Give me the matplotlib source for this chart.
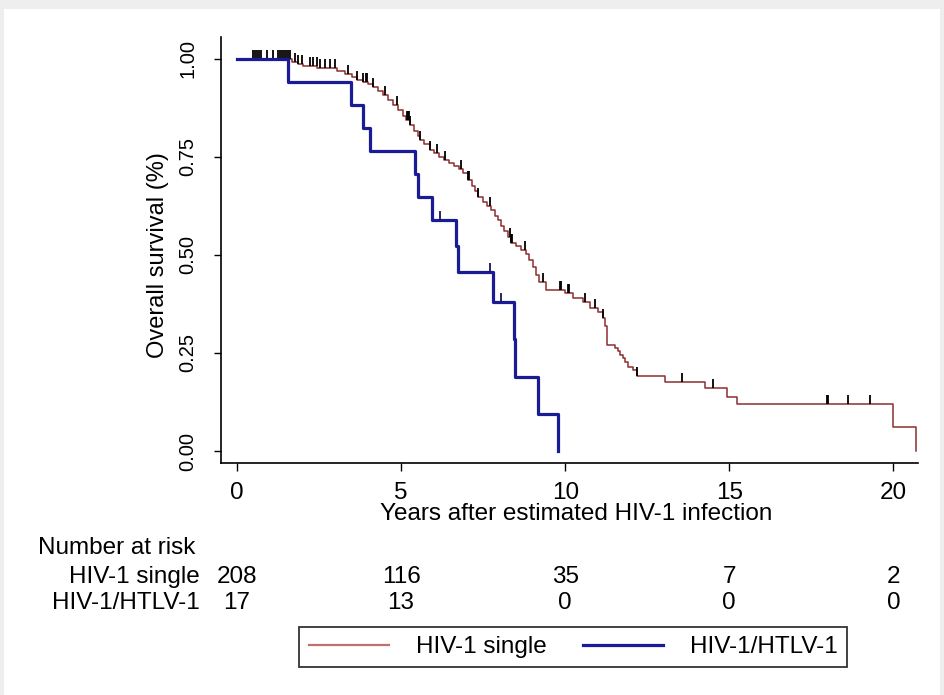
#Kaplan-Meier style survival curves: HIV-1 single vs HIV-1/HTLV-1 co-infection
import numpy as np
import matplotlib.pyplot as plt
from matplotlib.transforms import blended_transform_factory
from matplotlib.patches import Rectangle

plt.rcParams['font.family'] = ['Liberation Sans', 'DejaVu Sans']

# HIV-1 single: step times (years) and survival after each step
single_t = [0, 1.68, 1.85, 2.0, 2.45, 3.05, 3.3, 3.5, 3.66, 3.84, 4.0, 4.15, 4.3, 4.45,
            4.6, 4.76, 4.9, 5.06, 5.15, 5.27, 5.4, 5.5, 5.58, 5.7, 5.88, 6.0, 6.15,
            6.3, 6.45, 6.6, 6.75, 6.9, 7.04, 7.15, 7.25, 7.35, 7.5, 7.62, 7.75, 7.85,
            7.95, 8.05, 8.15, 8.25, 8.35, 8.5, 8.65, 8.8, 8.9, 9.02, 9.1, 9.2, 9.4,
            10.0, 10.24, 10.55, 10.76, 11.0, 11.16, 11.22, 11.28, 11.52, 11.6, 11.68,
            11.76, 11.83, 11.92, 12.07, 12.2, 13.05, 14.27, 14.94, 15.24, 20.0, 20.7]
single_s = [1.0, 0.992, 0.987, 0.982, 0.977, 0.969, 0.962, 0.954, 0.946, 0.941, 0.935,
            0.929, 0.919, 0.908, 0.896, 0.883, 0.870, 0.855, 0.845, 0.832, 0.815, 0.803,
            0.793, 0.782, 0.768, 0.760, 0.750, 0.742, 0.735, 0.727, 0.718, 0.710, 0.690,
            0.676, 0.662, 0.648, 0.636, 0.625, 0.615, 0.600, 0.588, 0.575, 0.562, 0.545,
            0.530, 0.522, 0.512, 0.503, 0.488, 0.469, 0.450, 0.431, 0.411, 0.403, 0.390,
            0.380, 0.365, 0.355, 0.339, 0.320, 0.270, 0.263, 0.254, 0.245, 0.236, 0.227,
            0.214, 0.207, 0.191, 0.176, 0.161, 0.138, 0.120, 0.061, 0.0]
single_cens = [0.49, 0.55, 0.61, 0.67, 0.73, 0.91, 1.10, 1.25, 1.31, 1.37, 1.43, 1.49,
               1.55, 1.62, 1.77, 1.86, 1.98, 2.23, 2.32, 2.44, 2.53, 2.68, 2.84, 2.99,
               3.38, 3.66, 3.84, 3.93, 3.96, 4.15, 4.51, 4.88, 5.18, 5.21, 5.24, 5.27,
               5.58, 5.88, 6.1, 6.34, 6.83, 7.04, 7.07, 7.35, 7.71, 8.32, 8.35, 8.38,
               8.78, 9.33, 9.85, 9.88, 10.09, 10.12, 10.61, 10.91, 11.16, 12.2, 13.57,
               14.5, 17.99, 18.02, 18.63, 19.30]

# HIV-1/HTLV-1
coinf_t = [0, 1.55, 3.48, 3.85, 4.05, 5.43, 5.5, 5.95, 6.67, 6.72, 7.8, 8.44, 8.47, 9.16, 9.79]
coinf_s = [1.0, 0.941, 0.882, 0.824, 0.765, 0.706, 0.647, 0.588, 0.523, 0.457, 0.381,
           0.286, 0.190, 0.095, 0.0]
coinf_cens = [6.2, 7.7, 8.05]

# Number at risk table
risk_times = [0, 5, 10, 15, 20]
risk_single = [208, 116, 35, 7, 2]
risk_coinf = [17, 13, 0, 0, 0]

red = '#8c2d2d'
blue = '#1b1b96'
fs = 17.5      # horizontal text
fs_v = 14.5    # rotated y tick labels

fig = plt.figure(figsize=(9.45, 6.95), dpi=100)
fig.patch.set_facecolor('#eeeeee')
fig.patches.append(Rectangle((4/945, 0), 936/945, 686/695, transform=fig.transFigure,
                             facecolor='white', edgecolor='none', zorder=-10))

ax = fig.add_axes([221/945, 0.3338, 697/945, 0.613])
ax.set_facecolor('none')


def level_at(t, s, times):
    idx = np.searchsorted(t, times, side='right') - 1
    return np.array(s)[idx]


ax.step(single_t, single_s, where='post', color=red, lw=1.1, clip_on=False, zorder=3,
        label='HIV-1 single')
cy = level_at(single_t, single_s, single_cens)
ax.vlines(single_cens, cy, cy + 0.023, color='black', lw=1.3, zorder=4, clip_on=False)

ax.step(coinf_t, coinf_s, where='post', color=blue, lw=2.3, clip_on=False, zorder=5,
        label='HIV-1/HTLV-1')
by = level_at(coinf_t, coinf_s, coinf_cens)
ax.vlines(coinf_cens, by, by + 0.023, color='#15155e', lw=1.3, zorder=6, clip_on=False)

ax.set_xlim(-0.488, 20.75)
ax.set_ylim(-0.0306, 1.056)
ax.spines['top'].set_visible(False)
ax.spines['right'].set_visible(False)
for sp in ['left', 'bottom']:
    ax.spines[sp].set_linewidth(1.2)

ax.set_xticks(risk_times)
ax.set_xticklabels([str(v) for v in risk_times], fontsize=fs)
ax.set_yticks([0, 0.25, 0.5, 0.75, 1.0])
ax.set_yticklabels(['0.00', '0.25', '0.50', '0.75', '1.00'], fontsize=fs_v, rotation=90,
                   va='center')
ax.tick_params(axis='x', length=6, width=1, pad=8)
ax.tick_params(axis='y', length=5, width=1, pad=12)

axh = 0.613 * 695
ax.set_xlabel('Years after estimated HIV-1 infection', fontsize=fs)
ax.xaxis.set_label_coords((576 - 221) / 697, (463 - 514) / axh)
ax.xaxis.label.set_va('center')
ax.set_ylabel('Overall survival (%)', fontsize=17)
ax.yaxis.set_label_coords((158 - 221) / 697, (463 - 255) / axh)
ax.yaxis.label.set_va('center')

# Number at risk
tr = blended_transform_factory(ax.transData, fig.transFigure)
fig.text(38/945, 1 - 548/695, 'Number at risk', fontsize=fs, va='center', ha='left')
fig.text(200/945, 1 - 577/695, 'HIV-1 single', fontsize=fs, va='center', ha='right')
fig.text(200/945, 1 - 603/695, 'HIV-1/HTLV-1', fontsize=fs, va='center', ha='right')
for t, a, b in zip(risk_times, risk_single, risk_coinf):
    ax.text(t, 1 - 577/695, str(a), transform=tr, fontsize=fs, ha='center', va='center')
    ax.text(t, 1 - 603/695, str(b), transform=tr, fontsize=fs, ha='center', va='center')

leg = ax.legend(loc='center', bbox_to_anchor=(573/945, 1 - 647/695),
                bbox_transform=fig.transFigure, ncol=2, fontsize=fs, frameon=True,
                fancybox=False, edgecolor='black', handlelength=3.3, handletextpad=1.1,
                columnspacing=1.5, borderpad=0.38)
leg.get_frame().set_linewidth(1.3)
leg.legend_handles[0].set_color('#c07070')
leg.legend_handles[0].set_linewidth(1.6)

fig.savefig('out.png', dpi=100)
